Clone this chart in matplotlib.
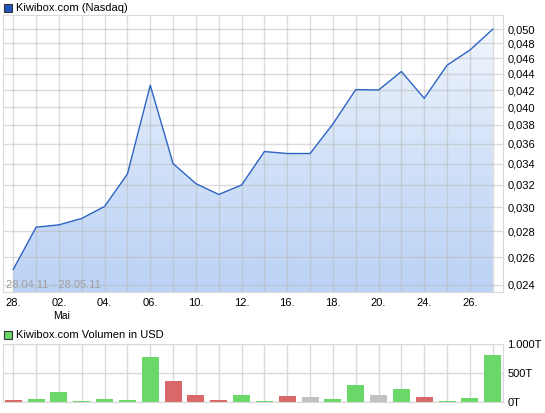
import numpy as np
import matplotlib
matplotlib.use('Agg')
import matplotlib.pyplot as plt
from matplotlib.patches import Rectangle
from matplotlib.ticker import FixedLocator, FuncFormatter, NullLocator
from matplotlib.colors import LinearSegmentedColormap

plt.rcParams['font.family'] = ['Liberation Sans', 'DejaVu Sans']

# Data (trading days 28.04.11 - 27.05.11)
price = [0.0251, 0.02833, 0.02852, 0.02905, 0.03007, 0.03301, 0.04258, 0.03400,
         0.03210, 0.03112, 0.03198, 0.0352, 0.0350, 0.0350, 0.0381, 0.04205,
         0.0420, 0.04429, 0.04101, 0.0451, 0.0471, 0.0500]
volume = [34, 51, 170, 17, 51, 34, 778, 358, 119, 34, 119, 17, 102, 85, 51, 301,
          119, 222, 85, 17, 68, 818]
vol_dir = ['down', 'up', 'up', 'up', 'up', 'up', 'up', 'down', 'down', 'down', 'up', 'up',
           'down', 'flat', 'up', 'up', 'flat', 'up', 'down', 'up', 'up', 'up']
tick_labels = ['28.', '02.', '04.', '06.', '10.', '12.', '16.', '18.', '20.', '24.', '26.']
price_ticks = [0.024, 0.026, 0.028, 0.030, 0.032, 0.034, 0.036, 0.038, 0.040,
               0.042, 0.044, 0.046, 0.048, 0.050]
vol_ticks = [0, 500, 1000]
vol_tick_labels = ['0T', '500T', '1.000T']

W, H = 545, 413
fig = plt.figure(figsize=(W / 100, H / 100), dpi=100)


def px_axes(l, t, r, b):
    return fig.add_axes([l / W, 1 - b / H, (r - l) / W, (b - t) / H])


grid_c = '#d9d9d9'
x = np.arange(len(price))
xlim = (-0.45, 21.45)

# ---- price panel
ax = px_axes(3, 15, 503, 292)
ax.set_yscale('log')
ax.set_xlim(*xlim)
ax.set_ylim(0.02352, 0.05209)

poly = ax.fill_between(x, price, 0.02352, color='none', lw=0)
cmap = LinearSegmentedColormap.from_list('g', ['#bcd3f5', '#f6f9fe'])
grad = np.linspace(0, 1, 256).reshape(-1, 1)
img = ax.imshow(grad, cmap=cmap, extent=[xlim[0], xlim[1], 0.02352, 0.05209],
                origin='lower', aspect='auto', zorder=0.2)
img.set_clip_path(poly.get_paths()[0], transform=ax.transData)
ax.plot(x, price, color='#2d64c4', lw=1.0, zorder=3)

ax.xaxis.set_major_locator(FixedLocator(x))
ax.set_xticklabels([tick_labels[i // 2] if i % 2 == 0 else '' for i in x])
ax.yaxis.set_major_locator(FixedLocator(price_ticks))
ax.yaxis.set_minor_locator(NullLocator())
ax.yaxis.set_major_formatter(FuncFormatter(lambda v, p: f'{v:.3f}'.replace('.', ',')))
ax.yaxis.tick_right()
ax.tick_params(axis='both', length=0, labelsize=8, colors='black', pad=3)
ax.tick_params(axis='x', pad=4)
ax.grid(True, color='#b8b8b8', alpha=0.5, lw=1, zorder=0.5)
ax.set_axisbelow(True)
for s in ax.spines.values():
    s.set_color(grid_c)
ax.text(0.005, 0.025, '28.04.11 - 28.05.11', transform=ax.transAxes,
        fontsize=8, color='#a0a0a0', va='center', ha='left', zorder=4)
fig.text(62 / W, 1 - 316 / H, 'Mai', fontsize=7.5, ha='center', va='center')

# titles
fig.patches.append(Rectangle((4 / W, 1 - 12 / H), 8 / W, 8 / H, transform=fig.transFigure,
                             facecolor='#1d55c0', edgecolor='#333333', lw=0.8))
fig.text(16 / W, 1 - 8 / H, 'Kiwibox.com (Nasdaq)', fontsize=8, va='center', ha='left')
fig.patches.append(Rectangle((4 / W, 1 - 339 / H), 8 / W, 8 / H, transform=fig.transFigure,
                             facecolor='#66d966', edgecolor='#333333', lw=0.8))
fig.text(16 / W, 1 - 335 / H, 'Kiwibox.com Volumen in USD', fontsize=8, va='center', ha='left')

# ---- volume panel
ax2 = px_axes(3, 344, 503, 402)
colors = {'up': '#69d869', 'down': '#d96868', 'flat': '#c2c2c2'}
ax2.bar(x, volume, width=0.75, color=[colors[d] for d in vol_dir], zorder=2)
ax2.set_xlim(*xlim)
ax2.set_ylim(0, 1000)
ax2.xaxis.set_major_locator(FixedLocator(x))
ax2.set_xticklabels([])
ax2.yaxis.set_major_locator(FixedLocator(vol_ticks))
ax2.set_yticklabels(vol_tick_labels)
ax2.yaxis.tick_right()
ax2.tick_params(axis='both', length=0, labelsize=8, colors='black', pad=3)
ax2.grid(True, color=grid_c, lw=1, zorder=0)
ax2.set_axisbelow(True)
for s in ax2.spines.values():
    s.set_color(grid_c)

fig.savefig('out.png', dpi=100)
